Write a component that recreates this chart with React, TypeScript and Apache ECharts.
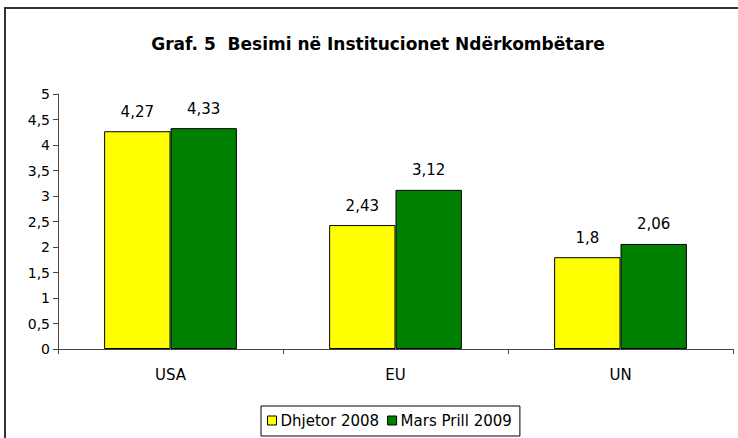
import React, { useEffect, useRef } from "react";
import * as echarts from "echarts";

const categories = ["USA", "EU", "UN"];
const seriesNames = ["Dhjetor 2008", "Mars Prill 2009"];
const dhjetor2008 = [4.27, 2.43, 1.8];
const marsPrill2009 = [4.33, 3.12, 2.06];
const colors = ["#FFFF00", "#008000"];

const fmt = (v: number) => String(v).replace(".", ",");

export default function App() {
  const ref = useRef<HTMLDivElement>(null);
  useEffect(() => {
    if (!ref.current) return;
    const chart = echarts.init(ref.current, null, { renderer: "svg" });
    const font = "'DejaVu Sans', 'Liberation Sans', Arial, sans-serif";
    const mkSeries = (name: string, data: number[], color: string) => ({
      name,
      type: "bar",
      data,
      barGap: "0%",
      barCategoryGap: "41%",
      itemStyle: { color, borderColor: "#000", borderWidth: 1 },
      label: {
        show: true,
        position: "top",
        distance: 12,
        color: "#000",
        fontSize: 15,
        fontFamily: font,
        formatter: (p: any) => fmt(p.value),
      },
    });
    chart.setOption({
      animation: false,
      backgroundColor: "#fff",
      textStyle: { fontFamily: font },
      graphic: [
        {
          type: "rect",
          shape: { x: 5, y: 8, width: 800, height: 500 },
          style: { fill: "none", stroke: "#333", lineWidth: 2 },
          silent: true,
        },
      ],
      title: {
        text: "Graf. 5  Besimi në Institucionet Ndërkombëtare",
        left: 373,
        textAlign: "center",
        top: 30,
        textStyle: { fontSize: 17, fontWeight: "bold", color: "#000", fontFamily: font },
      },
      legend: {
        data: seriesNames,
        left: 261,
        top: 406,
        icon: "rect",
        itemWidth: 9,
        itemHeight: 9,
        itemGap: 8,
        padding: [7, 8, 8, 6],
        borderColor: "#000",
        borderWidth: 1,
        backgroundColor: "#fff",
        itemStyle: { borderColor: "#000", borderWidth: 1 },
        textStyle: { fontSize: 15, color: "#000", fontFamily: font, padding: [0, 0, 0, -1] },
      },
      grid: { left: 58, top: 94, right: 5, bottom: 89, containLabel: false },
      xAxis: {
        type: "category",
        data: categories,
        axisLine: { lineStyle: { color: "#444", width: 1 } },
        axisTick: { show: true, length: 5, lineStyle: { color: "#444" }, alignWithLabel: false },
        axisLabel: { fontSize: 15, color: "#000", margin: 18, fontFamily: font },
      },
      yAxis: {
        type: "value",
        min: 0,
        max: 5,
        interval: 0.5,
        splitLine: { show: false },
        axisLine: { show: true, lineStyle: { color: "#444", width: 1 } },
        axisTick: { show: true, length: 5, lineStyle: { color: "#444" } },
        axisLabel: {
          fontSize: 14,
          color: "#000",
          margin: 8,
          fontFamily: font,
          formatter: (v: number) => fmt(v),
        },
      },
      series: [
        mkSeries(seriesNames[0], dhjetor2008, colors[0]),
        mkSeries(seriesNames[1], marsPrill2009, colors[1]),
      ],
    });
    return () => chart.dispose();
  }, []);
  return <div ref={ref} style={{ width: 738, height: 438, position: "absolute", left: 0, top: 0 }} />;
}
